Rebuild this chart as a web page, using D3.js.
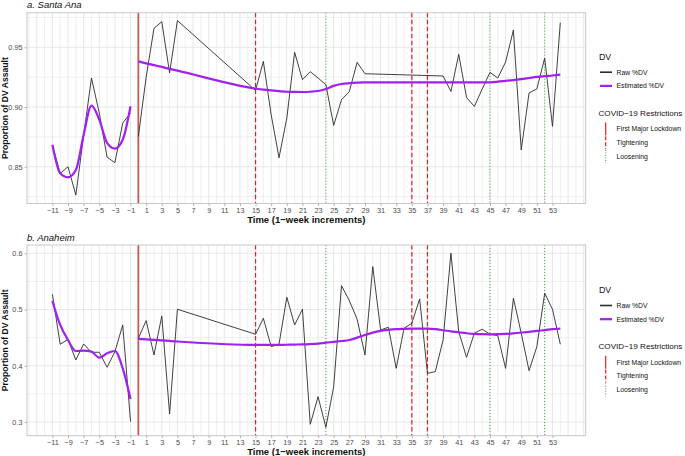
<!DOCTYPE html>
<html><head><meta charset="utf-8">
<script src="https://cdn.jsdelivr.net/npm/d3@7"></script>
<style>body{margin:0;background:#fff;} svg{display:block;font-family:"Liberation Sans",Arial,sans-serif;}</style>
</head><body><svg id="c" width="685" height="456"></svg>
<script>
// ---------- data ----------
const saWeeks = [-11,-10,-9,-8,-7,-6,-5,-4,-3,-2,-1,0,1,2,3,4,5,15,16,17,18,19,20,21,22,23,24,25,26,27,28,29,39,40,41,42,43,44,45,46,47,48,49,50,51,52,53,54];
const saRaw = [0.868,0.8444,0.850,0.8263,0.876,0.9243,0.895,0.858,0.8534,0.8866,0.895,0.8754,0.925,0.9659,0.9715,0.9285,0.9724,0.9139,0.9382,0.8935,0.8575,0.8907,0.9458,0.9229,0.9296,0.9243,0.9187,0.8846,0.9061,0.913,0.9374,0.9279,0.926,0.913,0.9441,0.908,0.9005,0.915,0.929,0.9243,0.9377,0.9645,0.864,0.9118,0.9152,0.941,0.8838,0.9707];
const saEst = [0.8684,0.8445,0.8411,0.8472,0.8768,0.9011,0.8894,0.870,0.8652,0.8726,0.9006,0.9382,0.9366,0.9351,0.9336,0.932,0.9305,0.9155,0.9146,0.9139,0.9133,0.9128,0.9127,0.9126,0.9128,0.9134,0.9151,0.9177,0.9193,0.92,0.9205,0.9207,0.9207,0.9206,0.9206,0.9206,0.9206,0.9206,0.9207,0.9212,0.9219,0.9226,0.9234,0.9243,0.9252,0.9259,0.9264,0.9271];

const anWeeks = [-11,-10,-9,-8,-7,-6,-5,-4,-3,-2,-1,0,1,2,3,4,5,15,16,17,18,19,20,21,22,23,24,25,26,27,28,29,30,31,32,33,34,35,36,37,38,39,40,41,42,43,44,45,46,47,48,49,50,51,52,53,54];
const anRaw = [0.5272,0.4382,0.4471,0.4103,0.4388,0.424,0.424,0.3973,0.4251,0.4726,0.3005,0.4489,0.4803,0.4192,0.4886,0.3142,0.5005,0.456,0.4845,0.434,0.4382,0.5219,0.4726,0.5005,0.2959,0.345,0.2905,0.3628,0.5425,0.5158,0.4827,0.4192,0.5764,0.4637,0.4685,0.3954,0.4667,0.4756,0.5189,0.3866,0.3895,0.4459,0.6002,0.4607,0.415,0.4578,0.465,0.456,0.4536,0.3954,0.5201,0.4578,0.3913,0.434,0.529,0.5005,0.4382];
const anEst = [0.5153,0.4726,0.4459,0.4263,0.4269,0.4251,0.4144,0.4222,0.4263,0.3954,0.3409,0.4477,0.4468,0.4459,0.445,0.4441,0.4432,0.437,0.437,0.437,0.4372,0.4374,0.4377,0.438,0.4386,0.4395,0.4411,0.4425,0.444,0.4459,0.45,0.4548,0.459,0.462,0.4638,0.465,0.4656,0.466,0.4661,0.466,0.465,0.4632,0.4612,0.4596,0.4578,0.4566,0.4561,0.456,0.4562,0.4566,0.4576,0.4589,0.4603,0.462,0.4634,0.465,0.4662];

const lockdownWeeks = [0];
const tighteningWeeks = [15,35,37];
const looseningWeeks = [24,45,52];
const xTickLabels = d3.range(-11,54,2);
const saYTicks = [0.85,0.90,0.95];
const anYTicks = [0.3,0.4,0.5,0.6];
const panelTitles = ["a. Santa Ana","b. Anaheim"];

// ---------- drawing ----------
const svg = d3.select("#c");
const C = {raw:"#2b2b2b", est:"#a020f0", lock:"#c85a54", tight:"#ee1c1c", loose:"#3aa83a", grid:"#e4e4e4", border:"#c9c9c9", text:"#4d4d4d"};
const L = 27, R = 585.7;

function panel(cfg){
  const g = svg.append("g");
  const x = d3.scaleLinear().domain([-14.25,57.25]).range([L,R]);
  const y = d3.scaleLinear().domain(cfg.yDom).range([cfg.bottom,cfg.top]);
  // grid
  const xg = d3.range(-14,58,1);
  g.selectAll(".vx").data(xg).join("line")
    .attr("x1",d=>x(d)).attr("x2",d=>x(d)).attr("y1",cfg.top).attr("y2",cfg.bottom)
    .attr("stroke",C.grid).attr("stroke-width",d=>Math.abs(d%2)===1?0.9:0.6);
  g.selectAll(".hy").data(cfg.yGrid).join("line")
    .attr("x1",L).attr("x2",R).attr("y1",d=>y(d)).attr("y2",d=>y(d))
    .attr("stroke",C.grid).attr("stroke-width",d=>cfg.yTicks.some(t=>Math.abs(t-d)<1e-9)?0.9:0.6);
  // restriction lines
  g.selectAll(".lk").data(lockdownWeeks).join("line")
    .attr("x1",d=>x(d)).attr("x2",d=>x(d)).attr("y1",cfg.top).attr("y2",cfg.bottom)
    .attr("stroke",C.lock).attr("stroke-width",1.8);
  g.selectAll(".tg").data(tighteningWeeks).join("line")
    .attr("x1",d=>x(d)).attr("x2",d=>x(d)).attr("y1",cfg.top).attr("y2",cfg.bottom)
    .attr("stroke",C.tight).attr("stroke-width",1.2).attr("stroke-dasharray","4.5,2.5");
  g.selectAll(".ls").data(looseningWeeks).join("line")
    .attr("x1",d=>x(d)).attr("x2",d=>x(d)).attr("y1",cfg.top).attr("y2",cfg.bottom)
    .attr("stroke",C.loose).attr("stroke-width",1).attr("stroke-dasharray","1,2");
  // series
  const pts = cfg.weeks.map((w,i)=>({w, raw:cfg.raw[i], est:cfg.est[i]}));
  const groups = [pts.filter(p=>p.w<0), pts.filter(p=>p.w>=0)];
  const rawLine = d3.line().x(p=>x(p.w)).y(p=>y(p.raw));
  const estLine = d3.line().x(p=>x(p.w)).y(p=>y(p.est)).curve(d3.curveMonotoneX);
  groups.forEach(gr=>{
    g.append("path").attr("d",rawLine(gr)).attr("fill","none").attr("stroke",C.raw).attr("stroke-width",0.9);
  });
  groups.forEach(gr=>{
    g.append("path").attr("d",estLine(gr)).attr("fill","none").attr("stroke",C.est).attr("stroke-width",2.2).attr("stroke-linecap","butt");
  });
  // border
  g.append("rect").attr("x",L).attr("y",cfg.top).attr("width",R-L).attr("height",cfg.bottom-cfg.top)
    .attr("fill","none").attr("stroke",C.border).attr("stroke-width",1);
  // axes
  const xa = g.append("g").attr("transform",`translate(0,${cfg.bottom})`)
    .call(d3.axisBottom(x).tickValues(xTickLabels).tickSize(2.5).tickPadding(2).tickFormat(d3.format("d")));
  xa.select(".domain").remove();
  xa.selectAll("line").attr("stroke","#b3b3b3");
  xa.selectAll("text").attr("fill",C.text).attr("font-size","7.3px").attr("font-family","Liberation Sans, Arial, sans-serif");
  const ya = g.append("g").attr("transform",`translate(${L},0)`)
    .call(d3.axisLeft(y).tickValues(cfg.yTicks).tickSize(2.5).tickPadding(2).tickFormat(cfg.yFmt));
  ya.select(".domain").remove();
  ya.selectAll("line").attr("stroke","#b3b3b3");
  ya.selectAll("text").attr("fill",C.text).attr("font-size","7.3px").attr("font-family","Liberation Sans, Arial, sans-serif");
  // titles
  g.append("text").attr("x",L).attr("y",cfg.top-4.5).attr("font-size","9.5px").attr("font-style","italic").attr("fill","#111").text(cfg.title);
  g.append("text").attr("x",(L+R)/2).attr("y",cfg.bottom+19.5).attr("text-anchor","middle").attr("font-size","9.5px").attr("font-weight","bold").attr("fill","#111").text("Time (1\u2212week increments)");
  g.append("text").attr("transform",`translate(5,${(cfg.top+cfg.bottom)/2}) rotate(-90)`).attr("text-anchor","middle").attr("dy","0.35em")
    .attr("font-size","8.6px").attr("font-weight","bold").attr("fill","#111").text("Proportion of DV Assault");
  // legend
  const lg = g.append("g").attr("transform",`translate(599,${cfg.legY})`);
  lg.append("text").attr("x",0).attr("y",0).attr("dy","0.35em").attr("font-size","8.8px").attr("fill","#111").text("DV");
  const dvItems = [{lab:"Raw %DV",col:C.raw,w:1.6},{lab:"Estimated %DV",col:C.est,w:2.2}];
  dvItems.forEach((it,i)=>{
    const yy = 15.5 + i*13.7;
    lg.append("line").attr("x1",1).attr("x2",13).attr("y1",yy).attr("y2",yy).attr("stroke",it.col).attr("stroke-width",it.w);
    lg.append("text").attr("x",17.5).attr("y",yy).attr("dy","0.35em").attr("font-size","6.8px").attr("fill","#111").text(it.lab);
  });
  lg.append("text").attr("x",-0.5).attr("y",56).attr("dy","0.35em").attr("font-size","8.1px").attr("fill","#111")
    .text("COVID\u221219 Restrictions");
  const cvItems = [{lab:"First Major Lockdown",col:C.tight,dash:null,w:1.2},{lab:"Tightening",col:C.tight,dash:"4,2",w:1.2},{lab:"Loosening",col:C.loose,dash:"1,1.5",w:1}];
  cvItems.forEach((it,i)=>{
    const yy = 72.2 + i*13.8;
    const ln = lg.append("line").attr("x1",6.7).attr("x2",6.7).attr("y1",yy-6.5).attr("y2",yy+6.5).attr("stroke",it.col).attr("stroke-width",it.w);
    if(it.dash) ln.attr("stroke-dasharray",it.dash);
    lg.append("text").attr("x",17.5).attr("y",yy).attr("dy","0.35em").attr("font-size","6.8px").attr("fill","#111").text(it.lab);
  });
}

panel({weeks:saWeeks, raw:saRaw, est:saEst, top:12.7, bottom:203.5, yDom:[0.8192,0.979],
  yTicks:saYTicks, yGrid:[0.825,0.85,0.875,0.9,0.925,0.95,0.975], yFmt:d3.format(".2f"), title:panelTitles[0], legY:56.7});
panel({weeks:anWeeks, raw:anRaw, est:anEst, top:245, bottom:435.7, yDom:[0.2756,0.6148],
  yTicks:anYTicks, yGrid:[0.3,0.35,0.4,0.45,0.5,0.55,0.6], yFmt:d3.format(".1f"), title:panelTitles[1], legY:290});
</script></body></html>
